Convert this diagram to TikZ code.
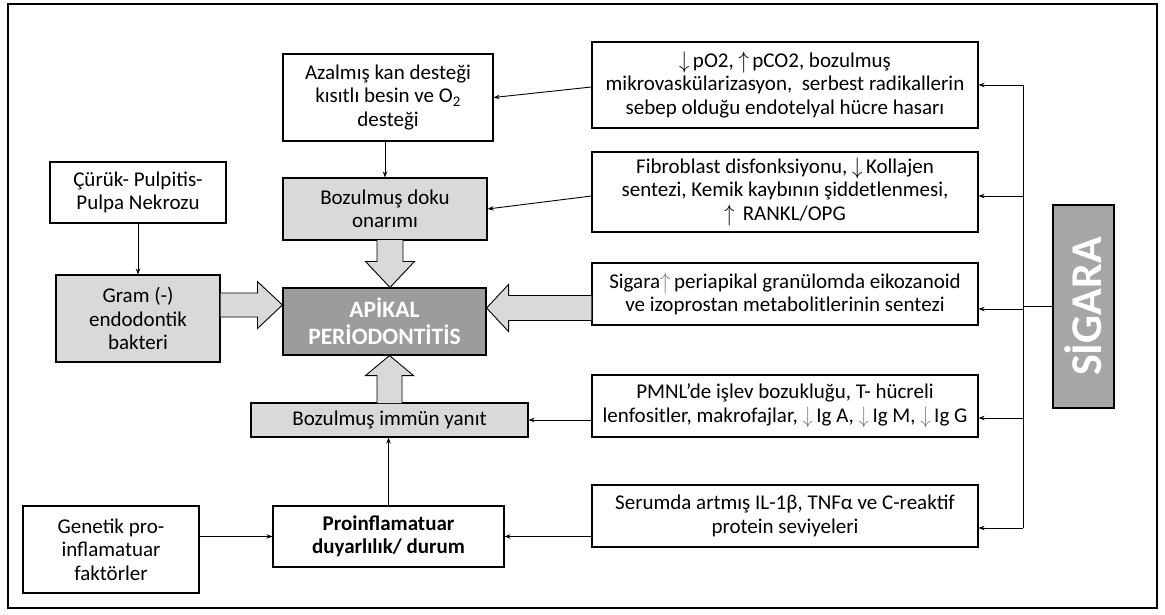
\documentclass[tikz,border=0pt]{standalone}
\usepackage{fontspec}
\usepackage{graphicx}
\setmainfont{Carlito}
\usetikzlibrary{calc,arrows.meta}
\definecolor{lg}{HTML}{D9D9D9}
\definecolor{dg}{HTML}{9C9C9C}
\definecolor{sg}{HTML}{A6A6A6}
\newcommand\tarr[1]{\raisebox{-1pt}{\scalebox{1}[1.15]{$#1$}}\,}
\newcommand\dn{\tarr{\downarrow}}
\newcommand\upa{\tarr{\uparrow}}
\newcommand\gdn{\textcolor{gray}{\tarr{\downarrow}}}
\newcommand\gup{\textcolor{gray}{\tarr{\uparrow}}}
\newcommand\blkarrow[5]{%
  \coordinate (tmpH) at ($(#2)!#5!(#1)$);
  \draw[blk] ($(#1)!#3!90:(#2)$) -- ($(tmpH)!#3!90:(#2)$) -- ($(tmpH)!#4!90:(#2)$) -- (#2)
    -- ($(tmpH)!#4!-90:(#2)$) -- ($(tmpH)!#3!-90:(#2)$) -- ($(#1)!#3!-90:(#2)$);
}
\begin{document}
\begin{tikzpicture}[x=1pt,y=-1pt,
  box/.style={draw,line width=1.1pt,inner sep=0pt,align=center,
    font=\fontsize{21}{23.5}\selectfont},
  gbox/.style={box,fill=lg},
  arr/.style={-{Stealth[length=6pt,width=4.5pt]},line width=0.9pt},
  ln/.style={line width=0.9pt},
  blk/.style={draw,fill=lg,line width=0.9pt,line join=miter}]
\useasboundingbox (0,0) rectangle (1165,615);
\draw[line width=1.6pt] (8,4) rectangle (1157,608);

% left / centre column
\node[box,minimum width=210pt,minimum height=87pt] (az) at (388,97.5)
  {Azalmış kan desteği\\kısıtlı besin ve O\textsubscript{2}\\desteği};
\node[gbox,minimum width=204pt,minimum height=62pt] (doku) at (385,209)
  {Bozulmuş doku\\onarımı};
\node[box,fill=dg,minimum width=203pt,minimum height=67pt,text=white,
  font=\fontsize{23.5}{27}\selectfont\bfseries] (apik) at (384.5,321.5)
  {APİKAL\\PERİODONTİTİS};
\node[gbox,minimum width=277pt,minimum height=34pt] (imm) at (389.5,420)
  {Bozulmuş immün yanıt};
\node[box,minimum width=176pt,minimum height=61pt] (curuk) at (138,192.5)
  {Çürük- Pulpitis-\\Pulpa Nekrozu};
\node[gbox,minimum width=164pt,minimum height=87pt] (gram) at (138,318.5)
  {Gram (-)\\endodontik\\bakteri};
\node[box,minimum width=176pt,minimum height=87pt] (gen) at (111,549.5)
  {Genetik pro-\\inflamatuar\\faktörler};
\node[box,minimum width=231pt,minimum height=61pt,
  font=\fontsize{21}{23.5}\selectfont\bfseries] (pro) at (388.5,536.5)
  {Proinflamatuar\\duyarlılık/ durum};

% right column
\node[box,minimum width=386pt,minimum height=86pt] (b1) at (785,85)
  {\dn pO2, \upa pCO2, bozulmuş\\mikrovaskülarizasyon,\ \ serbest radikallerin\\sebep olduğu endotelyal hücre hasarı};
\node[box,minimum width=386pt,minimum height=80pt] (b2) at (785,192)
  {Fibroblast disfonksiyonu, \dn Kollajen\\sentezi, Kemik kaybının şiddetlenmesi,\\\upa\ RANKL/OPG};
\node[box,minimum width=386pt,minimum height=62pt] (b3) at (785,294)
  {Sigara\gup periapikal granülomda eikozanoid\\ve izoprostan metabolitlerinin sentezi};
\node[box,minimum width=386pt,minimum height=62pt] (b4) at (785,406)
  {PMNL’de işlev bozukluğu, T- hücreli\\lenfositler, makrofajlar, \gdn Ig A, \gdn Ig M, \gdn Ig G};
\node[box,minimum width=386pt,minimum height=62pt] (b5) at (785,516)
  {Serumda artmış IL-1β, TNFα ve C-reaktif\\protein seviyeleri};

\node[box,fill=sg,minimum width=61pt,minimum height=203pt] (sig) at (1083.5,306.5) {};
\node[rotate=90,text=white,font=\fontsize{44}{44}\selectfont\bfseries] (sigt) at (sig.center) {SİGARA};

% thin connectors
\draw[arr] ($(b1.west)+(0,2)$) -- (az.east);
\draw[arr] ($(b2.west)+(0,4)$) -- (doku.east);
\draw[arr] (b4.west |- imm.east) -- (imm.east);
\draw[arr] (b5.west |- pro.east) -- (pro.east);
\draw[arr] (gen.east |- pro.west) -- (pro.west);
\draw[arr] (pro.north) -- (pro.north |- imm.south);
\draw[arr] (doku.north |- az.south) -- (doku.north);
\draw[arr] (curuk.south) -- (gram.north);

% SIGARA bus
\coordinate (bt) at (1023,85);
\coordinate (bb) at (1023,528);
\draw[ln] (bt) -- (bb);
\draw[ln] (sig.west) -- (bt |- sig.west);
\draw[arr] (bt) -- (bt -| b1.east);
\draw[arr] (1023,196) -- (b2.east |- 0,196);
\draw[arr] (1023,309) -- (b3.east |- 0,309);
\draw[arr] (1023,418) -- (b4.east |- 0,418);
\draw[arr] (bb) -- (bb -| b5.east);

% block arrows
\coordinate (dA) at (390,240); \coordinate (dB) at (apik.north -| dA);
\blkarrow{dA}{dB}{13pt}{24.5pt}{26pt}
\coordinate (uA) at (389.5,403); \coordinate (uB) at (apik.south -| uA);
\blkarrow{uA}{uB}{12.5pt}{24pt}{20pt}
\coordinate (rA) at (gram.east |- 0,305); \coordinate (rB) at (apik.west |- rA);
\blkarrow{rA}{rB}{12pt}{23.5pt}{25pt}
\coordinate (lA) at (b3.west |- 0,308); \coordinate (lB) at (apik.east |- lA);
\blkarrow{lA}{lB}{12.5pt}{23.5pt}{22pt}
\end{tikzpicture}
\end{document}
